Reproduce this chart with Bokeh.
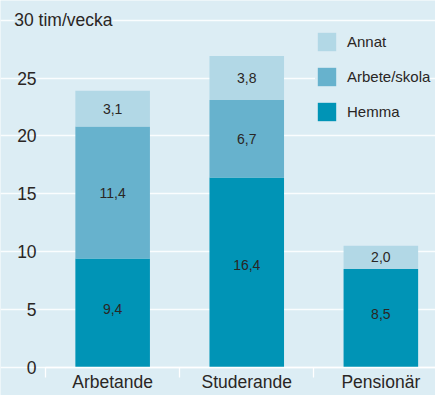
from bokeh.plotting import figure
from bokeh.models import (ColumnDataSource, Range1d, FixedTicker, Legend, LegendItem, Label)
from bokeh.core.properties import value
from bokeh.embed import file_html
from bokeh.resources import INLINE

categories = ["Arbetande", "Studerande", "Pensionär"]
hemma = [9.4, 16.4, 8.5]
arbete = [11.4, 6.7, 0.0]
annat = [3.1, 3.8, 2.0]
series_names = ["Hemma", "Arbete/skola", "Annat"]
y_ticks = [0, 5, 10, 15, 20, 25, 30]
y_unit = "tim/vecka"

BG = "#dcedf4"
COLORS = ["#0094b6", "#67b2cd", "#b2d8e6"]
TXT = "#2a2624"
FONT = "Liberation Sans"

W, H = 435, 395
LEFT = 45.1          # px of x=0 boundary
BAND = 134.1         # px per category
ZERO = 366.9         # px (from top) of y=0
UNIT = 11.576        # px per hour

xs = [i + 0.5 for i in range(len(categories))]
src = ColumnDataSource(dict(x=xs, Hemma=hemma, Arbete=arbete, Annat=annat))

p = figure(width=W, height=H, output_backend="svg", toolbar_location=None,
           x_range=Range1d(-LEFT / BAND, (W - LEFT) / BAND),
           y_range=Range1d(-(H - ZERO) / UNIT, ZERO / UNIT),
           min_border=0)
p.background_fill_color = BG
p.border_fill_color = BG
p.outline_line_color = None

renderers = p.vbar_stack(["Hemma", "Arbete", "Annat"], x="x", width=0.556, source=src,
                         color=COLORS, line_color=None)

# grid
p.xgrid.visible = False
p.ygrid.ticker = FixedTicker(ticks=y_ticks)
p.ygrid.bounds = (0, 10)
p.ygrid.grid_line_color = "white"
p.ygrid.grid_line_width = 1.5
p.ygrid.grid_line_alpha = 0.85

# y axis
ya = p.yaxis[0]
ya.fixed_location = 0
ya.ticker = FixedTicker(ticks=y_ticks)
ya.major_label_overrides = {y_ticks[-1]: ""}
ya.axis_line_color = None
ya.major_tick_line_color = None
ya.minor_tick_line_color = None
ya.major_tick_out = 0
ya.major_tick_in = 0
ya.major_label_standoff = 9
ya.major_label_text_font = FONT
ya.major_label_text_font_size = "17.5px"
ya.major_label_text_color = TXT

# x axis
xa = p.xaxis[0]
xa.fixed_location = 0
xa.bounds = (0, 10)
xa.ticker = FixedTicker(ticks=xs, minor_ticks=list(range(len(categories) + 1)))
xa.major_label_overrides = {x: c for x, c in zip(xs, categories)}
xa.axis_line_color = "white"
xa.axis_line_width = 1.3
xa.major_tick_line_color = None
xa.major_tick_out = 0
xa.major_tick_in = 0
xa.minor_tick_line_color = "white"
xa.minor_tick_line_width = 1.3
xa.minor_tick_out = 10
xa.minor_tick_in = 0
xa.major_label_standoff = -5
xa.major_label_text_font = FONT
xa.major_label_text_font_size = "17.5px"
xa.major_label_text_color = TXT

# unit label at top tick
p.add_layout(Label(x=-0.234, y=y_ticks[-1], text=f"{y_ticks[-1]} {y_unit}",
                   text_font=FONT, text_font_size="17.5px", text_color=TXT,
                   text_baseline="middle", text_align="left",
                   background_fill_color=BG, padding=0))

# value labels
fmt = lambda v: f"{v:.1f}".replace(".", ",")
lx, ly, lt = [], [], []
for i in range(len(categories)):
    base = 0.0
    for name, vals, frac in (("Hemma", hemma, 0.54), ("Arbete", arbete, 0.5), ("Annat", annat, 0.5)):
        v = vals[i]
        if v > 0:
            lx.append(xs[i]); ly.append(base + v * frac); lt.append(fmt(v))
        base += v
p.text(x=lx, y=ly, text=lt, text_font=value(FONT), text_font_size="14px",
       text_color=TXT, text_align="center", text_baseline="middle")

# legend
items = [LegendItem(label=series_names[k], renderers=[renderers[k]]) for k in (2, 1, 0)]
legend = Legend(items=items, location=(315, 272), orientation="vertical",
                background_fill_color=BG, background_fill_alpha=1.0,
                border_line_color=None, glyph_width=23, glyph_height=23,
                spacing=12, padding=10, margin=0, label_standoff=9,
                label_text_font=FONT, label_text_font_size="15px",
                label_text_color=TXT)
p.add_layout(legend)

open("out.html", "w").write(file_html(p, INLINE))
